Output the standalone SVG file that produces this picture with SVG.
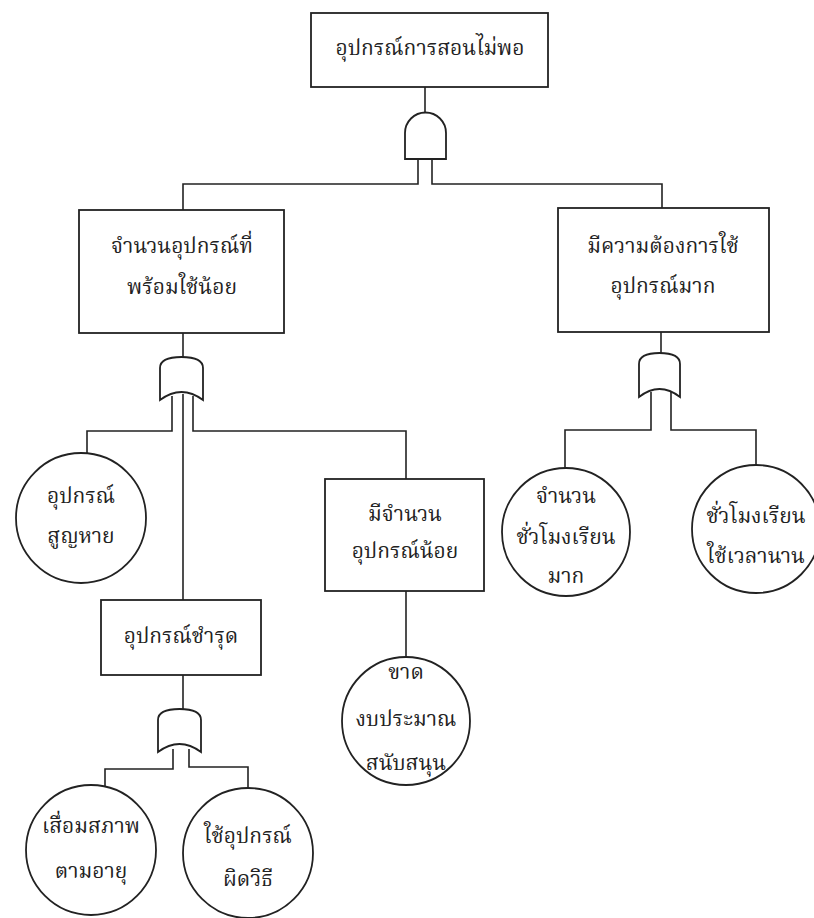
<svg xmlns="http://www.w3.org/2000/svg" width="814" height="918" viewBox="0 0 814 918">
  <style>
    .box { fill: #fff; stroke: #222; stroke-width: 1.8; }
    .ev { fill: #fff; stroke: #222; stroke-width: 1.8; }
    .gate { fill: #fff; stroke: #222; stroke-width: 1.8; }
    .wire { fill: none; stroke: #222; stroke-width: 1.6; }
    text { font-family: "Noto Serif Thai", "Noto Sans Thai", "Loma", "Garuda", "Noto Sans", sans-serif; font-size: 21px; fill: #222; text-anchor: middle; dominant-baseline: central; }
  </style>
  <rect width="814" height="918" fill="#fff"/>

  <!-- connectors -->
  <g id="connectors" class="wire">
    <path d="M425,87 V112"/>
    <path d="M418,158 V184 H183 V210"/>
    <path d="M432,158 V184 H662 V208"/>
    <path d="M183,333 V357"/>
    <path d="M172,396 V431 H87 V453"/>
    <path d="M183,394 V600"/>
    <path d="M193,396 V431 H406 V479"/>
    <path d="M406,591 V657"/>
    <path d="M661,332 V353"/>
    <path d="M651,392 V430 H565 V468"/>
    <path d="M671,392 V430 H756 V465"/>
    <path d="M183,675 V709"/>
    <path d="M173,749 V769 H105 V786"/>
    <path d="M189,749 V767 H248 V789"/>
  </g>

  <!-- gates -->
  <g id="gate-and-top">
    <path class="gate" d="M405,159 V133 A20.5,20.5 0 0 1 446,133 V159 Z"/>
  </g>
  <g id="gate-or-left">
    <path class="gate" d="M160,400 V368 Q160,357 181.5,357 Q203,357 203,368 V400 Q181.5,384 160,400 Z"/>
  </g>
  <g id="gate-or-right">
    <path class="gate" d="M639,397 V364 Q639,353 659.5,353 Q680,353 680,364 V397 Q659.5,381 639,397 Z"/>
  </g>
  <g id="gate-or-bottom">
    <path class="gate" d="M158,752 V720 Q158,709 179.5,709 Q201,709 201,720 V752 Q179.5,736 158,752 Z"/>
  </g>

  <!-- events -->
  <g id="top-event">
    <rect class="box" x="311" y="13" width="237" height="74"/>
    <text x="430" y="49">อุปกรณ์การสอนไม่พอ</text>
  </g>
  <g id="ready-equipment-low">
    <rect class="box" x="79" y="210" width="205" height="123"/>
    <text x="182" y="247">จำนวนอุปกรณ์ที่</text>
    <text x="182" y="288">พร้อมใช้น้อย</text>
  </g>
  <g id="high-demand">
    <rect class="box" x="558" y="208" width="211" height="124"/>
    <text x="663" y="247">มีความต้องการใช้</text>
    <text x="663" y="287">อุปกรณ์มาก</text>
  </g>
  <g id="equipment-lost">
    <circle class="ev" cx="81" cy="518" r="65"/>
    <text x="81" y="497">อุปกรณ์</text>
    <text x="81" y="537">สูญหาย</text>
  </g>
  <g id="few-equipment">
    <rect class="box" x="325" y="479" width="159" height="112"/>
    <text x="405" y="515">มีจำนวน</text>
    <text x="405" y="552">อุปกรณ์น้อย</text>
  </g>
  <g id="equipment-damaged">
    <rect class="box" x="101" y="600" width="160" height="75"/>
    <text x="181" y="637">อุปกรณ์ชำรุด</text>
  </g>
  <g id="lack-budget">
    <circle class="ev" cx="406" cy="721" r="64"/>
    <text x="406" y="673">ขาด</text>
    <text x="406" y="720">งบประมาณ</text>
    <text x="406" y="764">สนับสนุน</text>
  </g>
  <g id="many-hours">
    <circle class="ev" cx="566" cy="532" r="64"/>
    <text x="566" y="497">จำนวน</text>
    <text x="566" y="538">ชั่วโมงเรียน</text>
    <text x="566" y="577">มาก</text>
  </g>
  <g id="long-hours">
    <circle class="ev" cx="756" cy="529" r="64"/>
    <text x="756" y="517">ชั่วโมงเรียน</text>
    <text x="756" y="557">ใช้เวลานาน</text>
  </g>
  <g id="wear-by-age">
    <circle class="ev" cx="91" cy="850" r="65"/>
    <text x="91" y="827">เสื่อมสภาพ</text>
    <text x="91" y="872">ตามอายุ</text>
  </g>
  <g id="misuse">
    <circle class="ev" cx="248" cy="853" r="65"/>
    <text x="248" y="837">ใช้อุปกรณ์</text>
    <text x="248" y="880">ผิดวิธี</text>
  </g>
</svg>
